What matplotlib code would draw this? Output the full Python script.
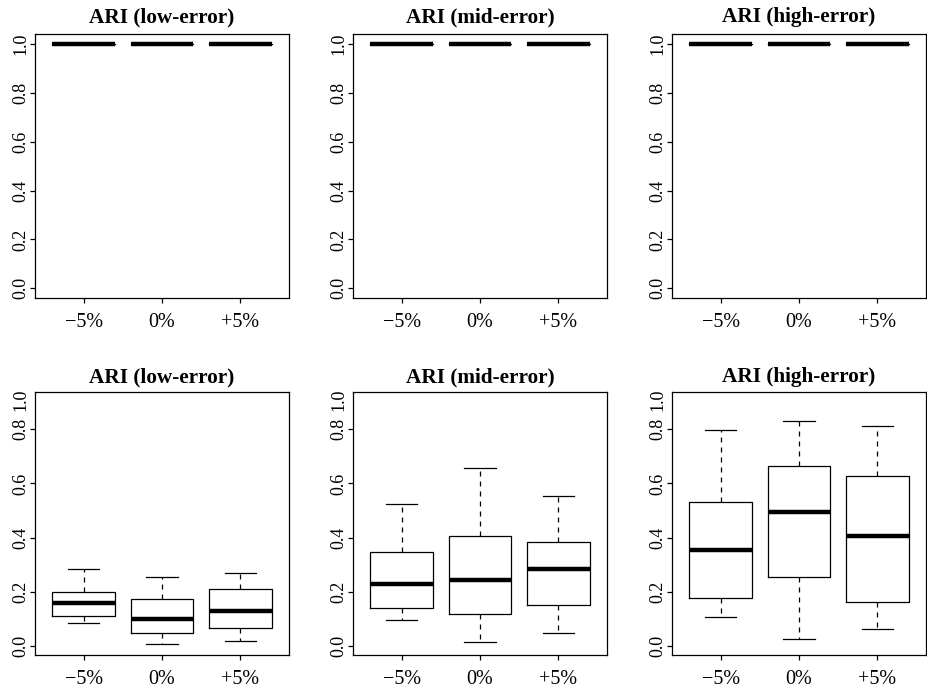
import numpy as np
import matplotlib
matplotlib.use("Agg")
import matplotlib.pyplot as plt

plt.rcParams['font.family'] = ['Liberation Serif', 'DejaVu Serif']

categories = ["\u22125%", "0%", "+5%"]
titles = ["ARI (low-error)", "ARI (mid-error)", "ARI (high-error)"]
yticks = [0.0, 0.2, 0.4, 0.6, 0.8, 1.0]

# top row: every run gives ARI = 1, so boxes collapse onto the median
top_whislo = [[1.0, 1.0, 1.0], [1.0, 1.0, 1.0], [1.0, 1.0, 1.0]]
top_q1     = [[1.0, 1.0, 1.0], [1.0, 1.0, 1.0], [1.0, 1.0, 1.0]]
top_med    = [[1.0, 1.0, 1.0], [1.0, 1.0, 1.0], [1.0, 1.0, 1.0]]
top_q3     = [[1.0, 1.0, 1.0], [1.0, 1.0, 1.0], [1.0, 1.0, 1.0]]
top_whishi = [[1.0, 1.0, 1.0], [1.0, 1.0, 1.0], [1.0, 1.0, 1.0]]

# bottom row (low, mid, high error), each list is -5%, 0%, +5%
bot_whislo = [[0.084, 0.009, 0.018], [0.096, 0.016, 0.048], [0.108, 0.026, 0.064]]
bot_q1     = [[0.112, 0.049, 0.066], [0.139, 0.117, 0.153], [0.176, 0.255, 0.162]]
bot_med    = [[0.160, 0.101, 0.129], [0.229, 0.242, 0.283], [0.355, 0.496, 0.407]]
bot_q3     = [[0.200, 0.172, 0.210], [0.347, 0.407, 0.383], [0.533, 0.664, 0.627]]
bot_whishi = [[0.283, 0.256, 0.269], [0.525, 0.656, 0.553], [0.796, 0.830, 0.813]]

W, H = 927, 692
fig = plt.figure(figsize=(W / 100, H / 100), dpi=100)

col_left = [35, 353, 672]
ax_w = 254
rows = [
    dict(top=34, bottom=298, ylim=(-0.04, 1.041), data=(top_whislo, top_q1, top_med, top_q3, top_whishi),
         extra_label=False, title_pad=8.3),
    dict(top=392, bottom=655, ylim=(-0.033, 0.9376), data=(bot_whislo, bot_q1, bot_med, bot_q3, bot_whishi),
         extra_label=True, title_pad=7),
]

for row in rows:
    for j in range(3):
        ax = fig.add_axes([col_left[j] / W, (H - row['bottom']) / H,
                           ax_w / W, (row['bottom'] - row['top']) / H])
        wlo, q1, med, q3, whi = row['data']
        stats = []
        for k in range(3):
            stats.append(dict(whislo=wlo[j][k], q1=q1[j][k], med=med[j][k],
                              q3=q3[j][k], whishi=whi[j][k], fliers=[]))
        ax.bxp(stats, positions=[1, 2, 3], widths=0.8, showfliers=False,
               boxprops=dict(color='black', linewidth=0.9),
               medianprops=dict(color='black', linewidth=3.2, solid_capstyle='butt'),
               whiskerprops=dict(color='black', linewidth=0.9, linestyle=(0, (4, 4))),
               capprops=dict(color='black', linewidth=0.9),
               capwidths=0.4)
        ax.set_xlim(0.38, 3.62)
        ax.set_ylim(*row['ylim'])
        ax.set_xticks([1, 2, 3])
        ax.set_xticklabels(categories)
        if row['extra_label']:
            ax.set_yticks(yticks[:-1])
            ax.set_yticklabels([f"{v:.1f}" for v in yticks[:-1]])
            # label for 1.0 sits above the clipped plot region
            ax.annotate("1.0", xy=(0, 0.97), xycoords='axes fraction',
                        xytext=(-4.1, 0), textcoords='offset points',
                        ha='right', va='center', rotation=90, fontsize=13)
        else:
            ax.set_yticks(yticks)
            ax.set_yticklabels([f"{v:.1f}" for v in yticks])
        ax.tick_params(axis='y', labelrotation=90, length=3.6, width=0.9,
                       pad=0.5, labelsize=13)
        for lab in ax.get_yticklabels():
            lab.set_va('center')
        ax.tick_params(axis='x', length=3.6, width=0.9, pad=7, labelsize=14.5)
        for s in ax.spines.values():
            s.set_linewidth(0.9)
            s.set_color('black')
        ax.set_title(titles[j], fontsize=15.3, fontweight='bold', pad=row['title_pad'])

fig.savefig("out.png", dpi=100)
